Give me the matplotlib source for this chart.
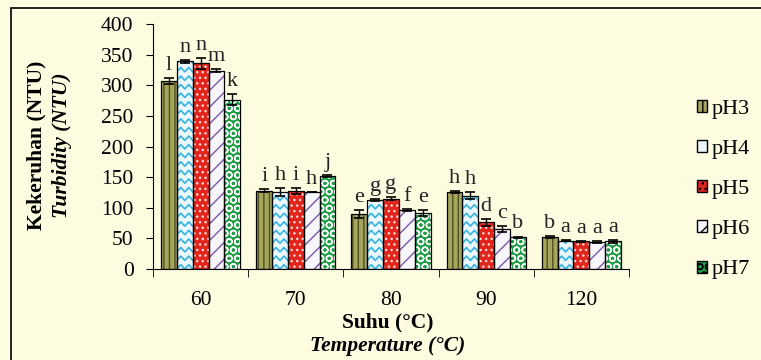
import numpy as np
import matplotlib
matplotlib.use("Agg")
import matplotlib.pyplot as plt
from matplotlib.patches import Rectangle, Patch

plt.rcParams['font.family'] = ['Liberation Serif', 'DejaVu Serif']
plt.rcParams['hatch.linewidth'] = 1.0

categories = ['60', '70', '80', '90', '120']
series = ['pH3', 'pH4', 'pH5', 'pH6', 'pH7']

ph3 = [307, 128, 90, 126, 52]
ph4 = [339, 126, 113, 120, 46]
ph5 = [336, 127, 115, 76, 45]
ph6 = [324, 125, 96, 65, 44]
ph7 = [276, 152, 92, 52, 45]

err3 = [5, 2, 6, 2, 2]
err4 = [2, 6, 2, 5, 1]
err5 = [9, 5, 2, 6, 1]
err6 = [2, 0, 2, 5, 1]
err7 = [9, 2, 5, 1, 2]

lab3 = ['l', 'i', 'e', 'h', 'b']
lab4 = ['n', 'h', 'g', 'h', 'a']
lab5 = ['n', 'i', 'g', 'd', 'a']
lab6 = ['m', 'h', 'f', 'c', 'a']
lab7 = ['k', 'j', 'e', 'b', 'a']

values = [ph3, ph4, ph5, ph6, ph7]
errors = [err3, err4, err5, err6, err7]
letters = [lab3, lab4, lab5, lab6, lab7]

# face colour, hatch colour, hatch
styles = [
    ('#a5a55c', '#4f4f24', '|||'),
    ('#eaf7fb', '#35b3e3', None),   # zigzag drawn by hand
    ('#e3241c', '#ffd8d0', '...'),
    ('#f6f6fb', '#7b55a8', '//'),
    ('#1f9f45', '#ffffff', 'OO'),
]

bg = '#fdfbe0'
fig = plt.figure(figsize=(7.61, 3.6), dpi=100, facecolor=bg)
ax = fig.add_axes([153 / 761, 1 - 269 / 360, (629 - 153) / 761, (269 - 24) / 360])
ax.set_facecolor('none')

x = np.arange(len(categories))
w = 0.166
offsets = (np.arange(5) - 2) * w


def zigzag(ax, xc, h, w, color):
    # wavy cyan pattern, clipped to the bar
    bar = Rectangle((xc - w / 2, 0), w, h, transform=ax.transData)
    xs = np.linspace(xc - w / 2, xc + w / 2, 5)
    amp = 7
    for y0 in np.arange(0, h + 14, 14):
        ys = y0 + np.where(np.arange(5) % 2 == 0, 0, amp)
        ln, = ax.plot(xs, ys, color=color, lw=1.2, zorder=2)
        ln.set_clip_path(bar)


for i, (vals, errs, labs, st) in enumerate(zip(values, errors, letters, styles)):
    pos = x + offsets[i]
    face, hc, hatch = st
    ax.bar(pos, vals, w, color=face, edgecolor=hc, hatch=hatch, linewidth=0, zorder=1)
    if hatch is None:
        for p, v in zip(pos, vals):
            zigzag(ax, p, v, w, hc)
    ax.bar(pos, vals, w, fill=False, edgecolor='black', linewidth=0.9, zorder=3,
           yerr=errs, error_kw=dict(ecolor='black', capsize=3.5, elinewidth=1, capthick=1.2))
    for p, v, e, t in zip(pos, vals, errs, labs):
        ax.text(p, v + e + 5, t, ha='center', va='bottom', fontsize=16, color='#222222')

ax.set_xlim(-0.5, 4.5)
ax.set_ylim(0, 400)
ax.set_yticks(np.arange(0, 401, 50))
ax.set_xticks(x)
ax.set_xticklabels(categories)
ax.set_xticks(np.arange(-0.5, 5, 1), minor=True)
ax.tick_params(axis='x', which='major', length=0, labelsize=15.5, pad=16)
ax.tick_params(axis='x', which='minor', length=6, direction='out')
ax.tick_params(axis='y', length=5, direction='out', labelsize=15.5, pad=9)
for s in ['top', 'right']:
    ax.spines[s].set_visible(False)

fig.text(0.51, 1 - 322 / 360, 'Suhu (°C)', ha='center', va='center', fontsize=15.5, fontweight='bold')
fig.text(0.51, 1 - 346 / 360, 'Temperature (°C)', ha='center', va='center', fontsize=15.5,
         fontweight='bold', fontstyle='italic')
fig.text(36 / 761, 1 - 145 / 360, 'Kekeruhan (NTU)', ha='center', va='center', rotation=90,
         fontsize=15.5, fontweight='bold')
fig.text(62 / 761, 1 - 145 / 360, 'Turbidity (NTU)', ha='center', va='center', rotation=90,
         fontsize=15.5, fontweight='bold', fontstyle='italic')

handles = []
for (face, hc, hatch), name in zip(styles, series):
    handles.append(Patch(facecolor=face, edgecolor='black', hatch=hatch if hatch else '\\', label=name))
leg = fig.legend(handles=handles, loc='upper left', bbox_to_anchor=(697 / 761, 1 - 100 / 360),
                 frameon=False, fontsize=16, handlelength=0.45, handleheight=0.45,
                 handletextpad=0.2, labelspacing=0.95, borderpad=0, borderaxespad=0)

fig.add_artist(Rectangle((11 / 761, -0.1), 1.2, 1.1 - 8 / 360, transform=fig.transFigure,
                         fill=False, edgecolor='black', linewidth=1.2))

fig.savefig('out.png', dpi=100, facecolor=bg)
